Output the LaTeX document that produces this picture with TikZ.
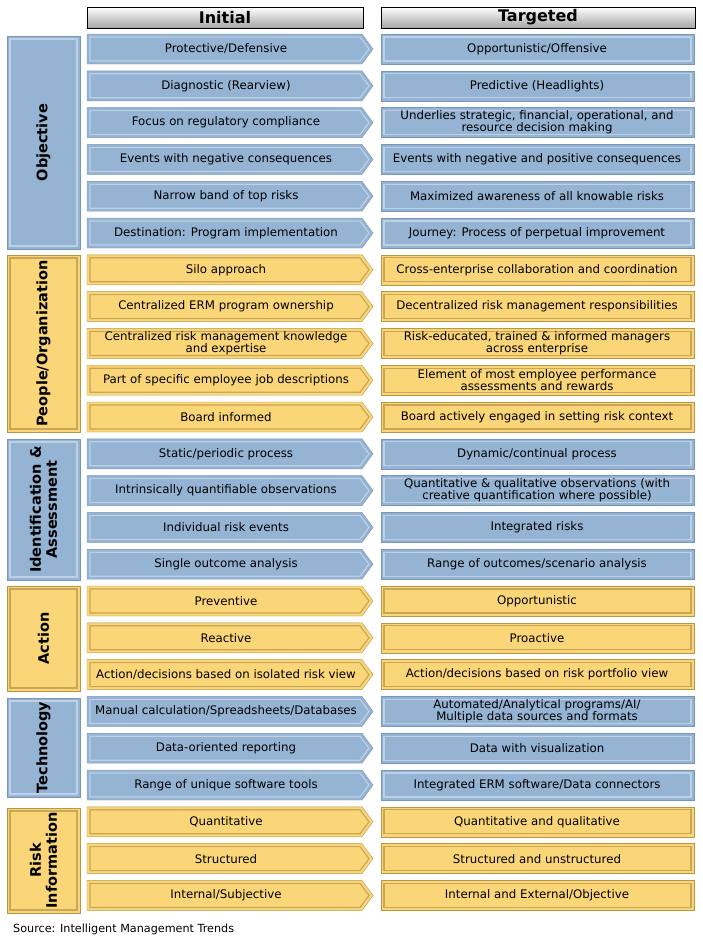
\documentclass[tikz,border=0pt]{standalone}
\usepackage{fontspec}
\setmainfont{DejaVu Sans}
\usetikzlibrary{calc}
\definecolor{bluefill}{RGB}{149,179,210}
\definecolor{blueline}{RGB}{190,208,228}
\definecolor{blueedge}{RGB}{120,150,185}
\definecolor{goldfill}{RGB}{250,214,120}
\definecolor{goldline}{RGB}{200,168,88}
\definecolor{goldedge}{RGB}{185,150,70}
\newcommand{\rowy}[1]{49+36.8*#1}
% one row: index, initial text, targeted text, colour prefix
\newcommand{\pairrow}[4]{%
  \path[fill=#4fill, draw=#4edge] (87,{\rowy{#1}-15}) -- (362,{\rowy{#1}-15}) -- (373,{\rowy{#1}}) -- (362,{\rowy{#1}+15}) -- (87,{\rowy{#1}+15}) -- cycle;
  \draw[#4line, line width=1.2] (90,{\rowy{#1}-12}) -- (360,{\rowy{#1}-12}) -- (369,{\rowy{#1}}) -- (360,{\rowy{#1}+12}) -- (90,{\rowy{#1}+12}) -- cycle;
  \node[celltext] (ini#1) at (226,{\rowy{#1}}) {#2};
  \path[fill=#4fill, draw=#4edge] (381,{\rowy{#1}-15}) rectangle (694,{\rowy{#1}+15});
  \draw[#4line, line width=1.2] (384,{\rowy{#1}-12}) rectangle (691,{\rowy{#1}+12});
  \node[celltext] (tar#1) at (537,{\rowy{#1}}) {#3};
}
% category box: name, top, bottom, colour prefix, label
\newcommand{\catbox}[5]{%
  \path[fill=#4fill, draw=#4edge] (7,#2) rectangle (80,#3);
  \draw[#4line, line width=1.2] (10,#2+3) rectangle (77,#3-3);
  \node[cattext] (#1) at (43.5,{(#2+#3)/2}) {#5};
}
\begin{document}
\begin{tikzpicture}[
  x=1pt, y=-1pt,
  celltext/.style={font=\fontsize{11.8}{11.8}\selectfont, align=center, inner sep=0pt},
  cattext/.style={font=\fontsize{14.5}{16}\selectfont\bfseries, align=center, rotate=90, inner sep=0pt},
  header/.style={draw=black, top color=white, bottom color=black!35, line width=0.6},
  ]
  \useasboundingbox (0,0) rectangle (702,945);

  % headers
  \draw[header] (87,7) rectangle (363,28);
  \node[font=\fontsize{16}{17}\selectfont\bfseries] (initial) at (225,17.5) {Initial};
  \draw[header] (381,7) rectangle (695,28);
  \node[font=\fontsize{16}{17}\selectfont\bfseries] (targeted) at (538,17.5) {Targeted};

  % categories
  \catbox{objective}{36}{249}{blue}{Objective}
  \catbox{people}{255}{432}{gold}{People/Organization}
  \catbox{ident}{439}{580}{blue}{Identification \&\\Assessment}
  \catbox{action}{586}{691}{gold}{Action}
  \catbox{techno}{698}{797}{blue}{Technology}
  \catbox{riskinfo}{808}{913}{gold}{Risk\\Information}

  % Objective
  \pairrow{0}{Protective/Defensive}{Opportunistic/Offensive}{blue}
  \pairrow{1}{Diagnostic (Rearview)}{Predictive (Headlights)}{blue}
  \pairrow{2}{Focus on regulatory compliance}{Underlies strategic, financial, operational, and\\resource decision making}{blue}
  \pairrow{3}{Events with negative consequences}{Events with negative and positive consequences}{blue}
  \pairrow{4}{Narrow band of top risks}{Maximized awareness of all knowable risks}{blue}
  \pairrow{5}{Destination: Program implementation}{Journey: Process of perpetual improvement}{blue}
  % People/Organization
  \pairrow{6}{Silo approach}{Cross-enterprise collaboration and coordination}{gold}
  \pairrow{7}{Centralized ERM program ownership}{Decentralized risk management responsibilities}{gold}
  \pairrow{8}{Centralized risk management knowledge\\and expertise}{Risk-educated, trained \& informed managers\\across enterprise}{gold}
  \pairrow{9}{Part of specific employee job descriptions}{Element of most employee performance\\assessments and rewards}{gold}
  \pairrow{10}{Board informed}{Board actively engaged in setting risk context}{gold}
  % Identification & Assessment
  \pairrow{11}{Static/periodic process}{Dynamic/continual process}{blue}
  \pairrow{12}{Intrinsically quantifiable observations}{Quantitative \& qualitative observations (with\\creative quantification where possible)}{blue}
  \pairrow{13}{Individual risk events}{Integrated risks}{blue}
  \pairrow{14}{Single outcome analysis}{Range of outcomes/scenario analysis}{blue}
  % Action
  \pairrow{15}{Preventive}{Opportunistic}{gold}
  \pairrow{16}{Reactive}{Proactive}{gold}
  \pairrow{17}{Action/decisions based on isolated risk view}{Action/decisions based on risk portfolio view}{gold}
  % Technology
  \pairrow{18}{Manual calculation/Spreadsheets/Databases}{Automated/Analytical programs/AI/\\Multiple data sources and formats}{blue}
  \pairrow{19}{Data-oriented reporting}{Data with visualization}{blue}
  \pairrow{20}{Range of unique software tools}{Integrated ERM software/Data connectors}{blue}
  % Risk Information
  \pairrow{21}{Quantitative}{Quantitative and qualitative}{gold}
  \pairrow{22}{Structured}{Structured and unstructured}{gold}
  \pairrow{23}{Internal/Subjective}{Internal and External/Objective}{gold}

  \node[anchor=west, font=\fontsize{11.2}{12}\selectfont, inner sep=0pt] (source) at (13,929) {Source: Intelligent Management Trends};
\end{tikzpicture}
\end{document}
